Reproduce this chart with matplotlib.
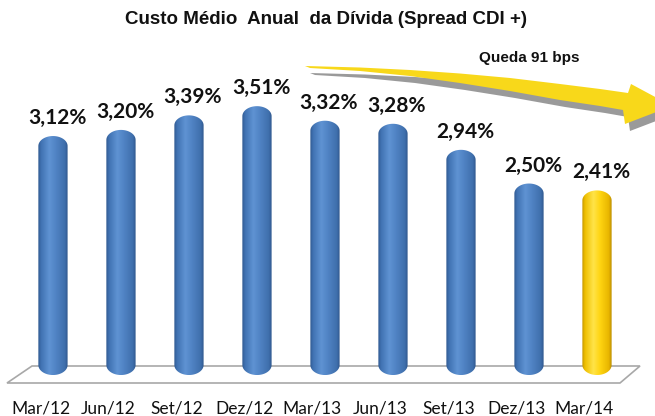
import numpy as np
import matplotlib
matplotlib.use("Agg")
import matplotlib.pyplot as plt
from matplotlib.path import Path
from matplotlib.patches import PathPatch, Polygon
from matplotlib.colors import LinearSegmentedColormap

# ---- data ----
categories = ["Mar/12", "Jun/12", "Set/12", "Dez/12", "Mar/13", "Jun/13", "Set/13", "Dez/13", "Mar/14"]
values = [3.12, 3.20, 3.39, 3.51, 3.32, 3.28, 2.94, 2.50, 2.41]
value_labels = ["3,12%", "3,20%", "3,39%", "3,51%", "3,32%", "3,28%", "2,94%", "2,50%", "2,41%"]
highlight = [False] * 8 + [True]
title = "Custo Médio  Anual  da Dívida (Spread CDI +)"
annotation = "Queda 91 bps"

W, H = 655, 416
fig = plt.figure(figsize=(W / 100, H / 100), dpi=100)
fig.patch.set_facecolor("white")
ax = fig.add_axes([0, 0, 1, 1])
ax.set_axis_off()

XL = (-0.779, 8.853)
YL = (-0.535, 4.896)

def px(x, y):
    """figure pixel (from top-left) -> figure fraction"""
    return (x / W, 1 - y / H)

# floor
floor = Polygon([px(32, 366), px(640, 366), px(620, 383), px(7, 383)], closed=True,
                transform=fig.transFigure, facecolor="white", edgecolor="#a8a8a8", lw=1.2, zorder=1)
ax.add_patch(floor)

blue_cmap = LinearSegmentedColormap.from_list("b", [
    (0.0, "#30598f"), (0.1, "#4072b2"), (0.38, "#5f93d3"), (0.6, "#5083c4"),
    (0.9, "#3f6fac"), (1.0, "#2f578c")])
yel_cmap = LinearSegmentedColormap.from_list("y", [
    (0.0, "#c29400"), (0.1, "#efbf00"), (0.38, "#ffe449"), (0.6, "#ffd512"),
    (0.9, "#e8b600"), (1.0, "#b98b00")])

bar_w = 0.43
ry = 10 / 76.6
grad = np.linspace(0, 1, 200)[None, :].repeat(2, axis=0)

for i, (v, hl) in enumerate(zip(values, highlight)):
    rx = bar_w / 2
    t1 = np.linspace(0, np.pi, 60)
    t2 = np.linspace(np.pi, 2 * np.pi, 60)
    xs = np.concatenate([i + rx * np.cos(t1), i + rx * np.cos(t2)])
    ys = np.concatenate([v - ry + ry * np.sin(t1), ry + ry * np.sin(t2)])
    verts = np.column_stack([xs, ys])
    verts = np.vstack([verts, verts[:1]])
    codes = [Path.MOVETO] + [Path.LINETO] * (len(verts) - 2) + [Path.CLOSEPOLY]
    patch = PathPatch(Path(verts, codes), facecolor="none", edgecolor="none", zorder=3)
    ax.add_patch(patch)
    im = ax.imshow(grad, cmap=yel_cmap if hl else blue_cmap, aspect="auto",
                   extent=[i - rx, i + rx, 0, v], interpolation="bilinear", zorder=3)
    im.set_clip_path(patch)
    ax.annotate(value_labels[i], xy=(i, v), xytext=(4, 18), textcoords="offset pixels",
                ha="center", va="center", fontsize=15, fontweight="bold",
                family="Lato", color="#111111", zorder=5)
    ax.annotate(categories[i], xy=(i, 0), xytext=(-12.5, -33), textcoords="offset pixels",
                ha="center", va="center", fontsize=12.5, family="Lato", color="#111111")

ax.set_xlim(*XL)
ax.set_ylim(*YL)

# title
fig.text(*px(326, 20), title, ha="center", va="center", fontsize=13.5, fontweight="bold",
         family="Liberation Sans", color="#111111")
fig.text(*px(529, 58), annotation, ha="center", va="center", fontsize=11, fontweight="bold",
         family="Liberation Sans", color="#111111")

# curved arrow (decoration)
top = [(305, 66), (360, 67.5), (410, 70), (460, 73.5), (510, 78), (560, 84), (600, 89), (628, 93)]
head = [(631, 84), (672, 106), (625, 124)]
bottom = [(623, 110), (600, 106), (560, 100), (510, 91), (460, 83), (410, 76), (360, 71), (310, 68)]
pts = top + head + bottom
shadow = Polygon([px(x + 5, y + 7) for x, y in pts], closed=True, transform=fig.transFigure,
                 facecolor="#9a9a9a", edgecolor="none", zorder=6)
arrow = Polygon([px(x, y) for x, y in pts], closed=True, transform=fig.transFigure,
                facecolor="#f8d81a", edgecolor="none", zorder=7)
fig.patches.extend([shadow, arrow])

fig.savefig("out.png", dpi=100)
